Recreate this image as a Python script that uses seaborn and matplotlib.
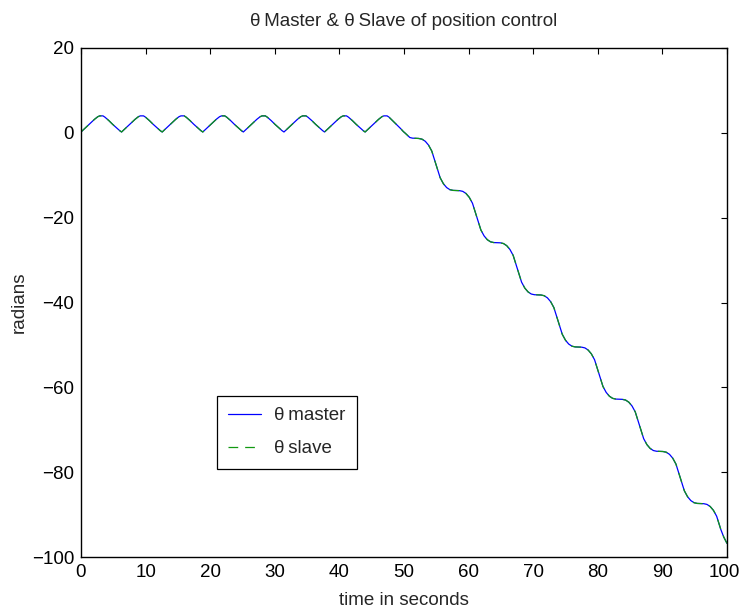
import matplotlib
matplotlib.use("Agg")
import matplotlib.pyplot as plt
import matplotlib.transforms as mtransforms
import seaborn as sns
import numpy as np

# ---- data ----
# oscillating phase (0 .. 50 s)
t_osc = [0, 0.7, 1.4, 2.1, 2.6, 2.9, 3.4, 3.7, 4.3, 4.9, 5.5, 6.0,
         6.28, 6.98, 7.68, 8.38, 8.88, 9.18, 9.68, 9.98, 10.58, 11.18, 11.78, 12.28,
         12.57, 13.27, 13.97, 14.67, 15.17, 15.47, 15.97, 16.27, 16.87, 17.47, 18.07, 18.57,
         18.85, 19.55, 20.25, 20.95, 21.45, 21.75, 22.25, 22.55, 23.15, 23.75, 24.35, 24.85,
         25.13, 25.83, 26.53, 27.23, 27.73, 28.03, 28.53, 28.83, 29.43, 30.03, 30.63, 31.13,
         31.42, 32.12, 32.82, 33.52, 34.02, 34.32, 34.82, 35.12, 35.72, 36.32, 36.92, 37.42,
         37.70, 38.40, 39.10, 39.80, 40.30, 40.60, 41.10, 41.40, 42.00, 42.60, 43.20, 43.70,
         43.98, 44.68, 45.38, 46.08, 46.58, 46.88, 47.38, 47.68, 48.28, 48.88, 49.48, 49.9]
y_osc = [0.2, 1.2, 2.2, 3.2, 3.8, 4.0, 4.0, 3.7, 2.9, 2.0, 1.2, 0.5,
         0.2, 1.2, 2.2, 3.2, 3.8, 4.0, 4.0, 3.7, 2.9, 2.0, 1.2, 0.5,
         0.2, 1.2, 2.2, 3.2, 3.8, 4.0, 4.0, 3.7, 2.9, 2.0, 1.2, 0.5,
         0.2, 1.2, 2.2, 3.2, 3.8, 4.0, 4.0, 3.7, 2.9, 2.0, 1.2, 0.5,
         0.2, 1.2, 2.2, 3.2, 3.8, 4.0, 4.0, 3.7, 2.9, 2.0, 1.2, 0.5,
         0.2, 1.2, 2.2, 3.2, 3.8, 4.0, 4.0, 3.7, 2.9, 2.0, 1.2, 0.5,
         0.2, 1.2, 2.2, 3.2, 3.8, 4.0, 4.0, 3.7, 2.9, 2.0, 1.2, 0.5,
         0.2, 1.2, 2.2, 3.2, 3.8, 4.0, 4.0, 3.7, 2.8, 1.9, 1.0, 0.3]

# descending staircase phase (50 .. 100 s)
t_desc = [50.2, 50.9, 51.3,
          51.8, 52.3, 52.8, 53.3, 53.8, 54.3, 54.95, 55.6, 56.1, 56.6, 57.1, 57.6,
          58.1, 58.6, 59.1, 59.6, 60.1, 60.6, 61.25, 61.9, 62.4, 62.9, 63.4, 63.9,
          64.4, 64.9, 65.4, 65.9, 66.4, 66.9, 67.55, 68.2, 68.7, 69.2, 69.7, 70.2,
          70.7, 71.2, 71.7, 72.2, 72.7, 73.2, 73.85, 74.5, 75.0, 75.5, 76.0, 76.5,
          77.0, 77.5, 78.0, 78.5, 79.0, 79.5, 80.15, 80.8, 81.3, 81.8, 82.3, 82.8,
          83.3, 83.8, 84.3, 84.8, 85.3, 85.8, 86.45, 87.1, 87.6, 88.1, 88.6, 89.1,
          89.6, 90.1, 90.6, 91.1, 91.6, 92.1, 92.75, 93.4, 93.9, 94.4, 94.9, 95.4,
          95.9, 96.4, 96.9, 97.4, 97.9, 98.4, 99.05, 99.5, 100.0]
y_desc = [-0.1, -1.1, -1.25,
          -1.3, -1.33, -1.5, -2.0, -2.9, -4.3, -7.45, -10.6, -12.0, -12.9, -13.4, -13.57,
          -13.6, -13.63, -13.8, -14.3, -15.2, -16.6, -19.75, -22.9, -24.3, -25.2, -25.7, -25.87,
          -25.9, -25.93, -26.1, -26.6, -27.5, -28.9, -32.05, -35.2, -36.6, -37.5, -38.0, -38.17,
          -38.2, -38.23, -38.4, -38.9, -39.8, -41.2, -44.35, -47.5, -48.9, -49.8, -50.3, -50.47,
          -50.5, -50.53, -50.7, -51.2, -52.1, -53.5, -56.65, -59.8, -61.2, -62.1, -62.6, -62.77,
          -62.8, -62.83, -63.0, -63.5, -64.4, -65.8, -68.95, -72.1, -73.5, -74.4, -74.9, -75.07,
          -75.1, -75.13, -75.3, -75.8, -76.7, -78.1, -81.25, -84.4, -85.8, -86.7, -87.2, -87.37,
          -87.4, -87.43, -87.6, -88.1, -89.0, -90.4, -93.55, -95.3, -96.8]

time = t_osc + t_desc
theta_master = y_osc + y_desc
theta_slave = list(theta_master)  # slave tracks master (overlapping)

x_ticks = [0, 10, 20, 30, 40, 50, 60, 70, 80, 90, 100]
y_ticks = [20, 0, -20, -40, -60, -80, -100]

title = "θ\u2009Master & θ\u2009Slave of position control"
xlabel = "time in seconds"
ylabel = "radians"
labels = ["θ\u2009master", "θ\u2009slave"]

# ---- style ----
sns.set_style("white")
plt.rcParams['font.family'] = ['Liberation Sans', 'DejaVu Sans']
plt.rcParams['lines.scale_dashes'] = False
fs = 13.5

fig = plt.figure(figsize=(7.41, 6.12), dpi=100)
ax = fig.add_axes([81/741, 1 - 557/612, (727-81)/741, (557-48)/612])

sns.lineplot(x=time, y=theta_master, ax=ax, color="#0000ff", linewidth=0.9,
             estimator=None, sort=False, label=labels[0])
sns.lineplot(x=time, y=theta_slave, ax=ax, color="#119911", linewidth=0.9,
             estimator=None, sort=False, label=labels[1], linestyle="--",
             dashes=False)
ax.lines[1].set_dashes((7, 5))

ax.set_xlim(0, 100)
ax.set_ylim(-100, 20)
ax.set_xticks(x_ticks)
ax.set_yticks(y_ticks)
ax.tick_params(direction="in", length=4.5, width=0.8, top=True, right=True,
               labelsize=fs, colors="black", pad=5)
for s in ax.spines.values():
    s.set_color("black")
    s.set_linewidth(1.0)
    s.set_visible(True)

# keep the last x tick label inside the figure edge
last = ax.get_xticklabels()[-1]
last.set_transform(last.get_transform() +
                   mtransforms.ScaledTranslation(-3/100, 0, fig.dpi_scale_trans))

ax.set_title(title, fontsize=fs, pad=16)
ax.set_xlabel(xlabel, fontsize=fs, labelpad=8)
ax.set_ylabel(ylabel, fontsize=fs, labelpad=3)

leg = ax.legend(loc="upper left", bbox_to_anchor=(217/741, 1 - 396/612),
                bbox_transform=fig.transFigure, fontsize=fs, frameon=True,
                fancybox=False, edgecolor="black", framealpha=1,
                handlelength=1.75, handletextpad=0.7, borderpad=0.6,
                labelspacing=0.85, borderaxespad=0)
leg.get_frame().set_linewidth(0.9)

fig.savefig("out.png", dpi=100)
